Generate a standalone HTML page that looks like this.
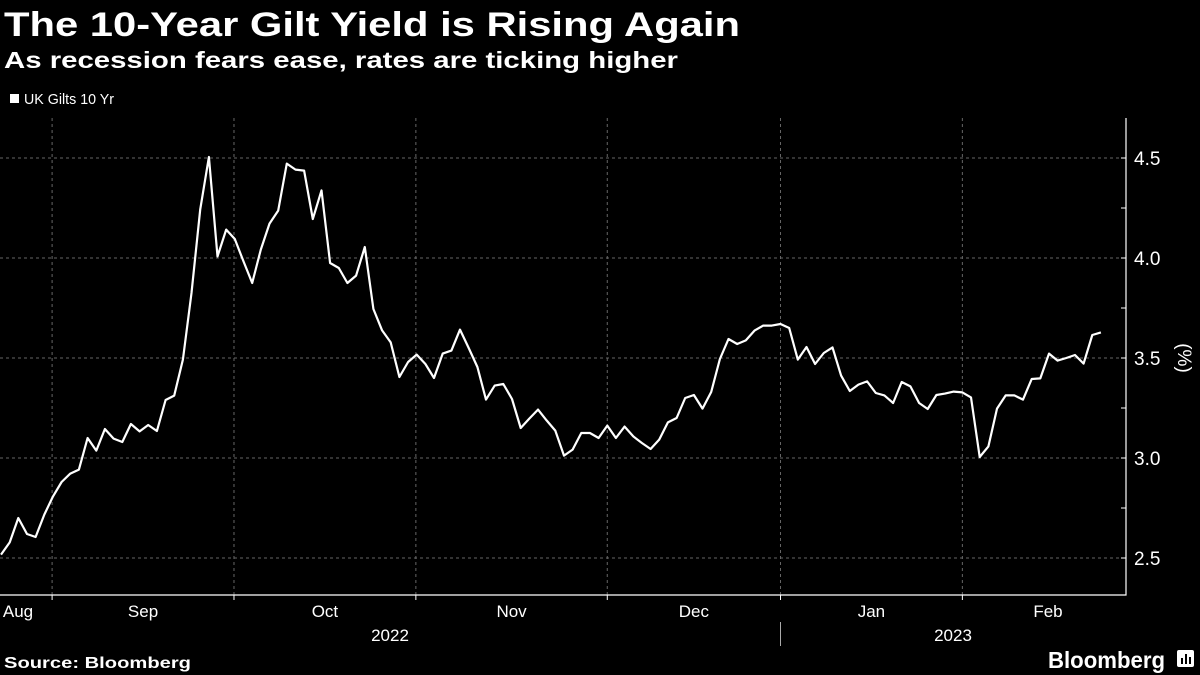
<!DOCTYPE html>
<html><head><meta charset="utf-8"><style>
body{margin:0;background:#000;width:1200px;height:675px;overflow:hidden;font-family:"Liberation Sans",sans-serif;color:#fff}
svg{position:absolute;left:0;top:0}
</style></head><body>
<svg width="1200" height="675">
<text x="4" y="36" font-size="34" font-weight="bold" fill="#fff" textLength="736" lengthAdjust="spacingAndGlyphs">The 10-Year Gilt Yield is Rising Again</text>
<text x="4" y="68" font-size="23" font-weight="bold" fill="#fff" textLength="674" lengthAdjust="spacingAndGlyphs">As recession fears ease, rates are ticking higher</text>
<rect x="10" y="94" width="9" height="9" fill="#fff"/>
<text x="24" y="104" font-size="15" fill="#fff" textLength="90" lengthAdjust="spacingAndGlyphs">UK Gilts 10 Yr</text>
<g id="grid"></g>
<g id="axes"></g>
<path id="line" fill="none" stroke="#fff" stroke-width="2.2" stroke-linejoin="round"/>
<text x="4" y="668" font-size="16" font-weight="bold" fill="#fff" textLength="187" lengthAdjust="spacingAndGlyphs">Source: Bloomberg</text>
<text x="1048" y="668" font-size="23" font-weight="bold" fill="#fff" textLength="117" lengthAdjust="spacingAndGlyphs">Bloomberg</text>
<g><rect x="1177" y="650" width="17" height="17" rx="2" fill="#fff"/><rect x="1181" y="658" width="2" height="6" fill="#000"/><rect x="1185" y="654" width="2" height="10" fill="#000"/><rect x="1189" y="657" width="2" height="7" fill="#000"/></g>
</svg>
<script>
const values=[2.517,2.578,2.70,2.62,2.605,2.717,2.808,2.88,2.922,2.942,3.10,3.037,3.145,3.097,3.08,3.17,3.133,3.165,3.135,3.29,3.312,3.492,3.825,4.242,4.505,4.008,4.142,4.095,3.983,3.875,4.042,4.172,4.237,4.472,4.442,4.437,4.195,4.338,3.975,3.95,3.875,3.912,4.055,3.745,3.638,3.578,3.405,
3.48,3.517,3.47,3.40,3.522,3.537,3.642,3.55,3.455,3.292,3.362,3.37,3.295,3.15,3.197,3.242,3.188,3.137,3.012,3.042,3.125,3.125,3.10,3.162,3.10,3.157,3.108,3.075,3.045,3.092,3.178,3.20,3.30,3.315,3.247,3.33,3.495,3.595,3.57,3.588,3.637,3.662,3.662,3.67,
3.65,3.492,3.555,3.47,3.525,3.553,3.412,3.335,3.367,3.383,3.325,3.313,3.275,3.38,3.358,3.275,3.245,3.315,3.322,3.332,3.328,3.303,3.005,3.058,3.247,3.313,3.313,3.292,3.395,3.398,3.522,3.487,3.50,3.515,3.472,3.615,3.628];
const monthStarts=[5.9,26.9,47.9,70,90,111];
const monthLabels=["Aug","Sep","Oct","Nov","Dec","Jan","Feb"];
const yTicks=[2.5,3.0,3.5,4.0,4.5];
const yTickLabels=["2.5","3.0","3.5","4.0","4.5"];
const yMinor=[2.5,2.75,3.0,3.25,3.5,3.75,4.0,4.25,4.5];
const years=["2022","2023"];
const NS="http://www.w3.org/2000/svg";
const X0=1,STEP=8.661,PR=1126,PT=118,PB=595;
const xs=i=>X0+i*STEP;
const ys=v=>158+(4.5-v)*200;
function mk(t,a,p){const e=document.createElementNS(NS,t);for(const k in a)e.setAttribute(k,a[k]);p.appendChild(e);return e;}
const grid=document.getElementById('grid'),axes=document.getElementById('axes');
yTicks.forEach((v,i)=>{
 const l=mk('line',{x1:0,x2:PR,y1:ys(v),y2:ys(v),stroke:'#666','stroke-dasharray':'3,3','stroke-width':1},grid);
 
 
 const t=mk('text',{x:1134,y:ys(v)+7,'font-size':19,fill:'#fff'},axes);t.textContent=yTickLabels[i];
 
 
});
yMinor.forEach(v=>{const l=mk('line',{x1:PR-5,x2:PR,y1:ys(v),y2:ys(v),stroke:'#fff','stroke-width':1},axes);
 
 });
monthStarts.forEach(m=>{
 const l=mk('line',{x1:xs(m),x2:xs(m),y1:PT,y2:PB,stroke:'#666','stroke-dasharray':'3,3','stroke-width':1},grid);
 
 
 const t=mk('line',{x1:xs(m),x2:xs(m),y1:PB,y2:PB+5,stroke:'#fff','stroke-width':1},axes);
 
 
});
const bounds=[0].concat(monthStarts.map(xs)).concat([PR]);
monthLabels.forEach((m,i)=>{
 let cx=(bounds[i]+bounds[i+1])/2; if(i===0)cx=18; if(i===6)cx=1048;
 const t=mk('text',{x:cx,y:617,'font-size':17,fill:'#fff','text-anchor':'middle'},axes);t.textContent=m;
 
 
});
[[390,years[0]],[953,years[1]]].forEach(([x,s])=>{const t=mk('text',{x:x,y:641,'font-size':17,fill:'#fff','text-anchor':'middle'},axes);t.textContent=s;
 
 });
const ysep=mk('line',{x1:xs(monthStarts[4]),x2:xs(monthStarts[4]),y1:622,y2:646,stroke:'#aaa','stroke-width':1},axes);


const ax=mk('path',{d:`M0 ${PB}H${PR}V${PT}`,stroke:'#fff','stroke-width':1.2,fill:'none'},axes);


const ut=mk('text',{x:1178,y:358,'font-size':19,fill:'#fff','text-anchor':'middle',transform:'rotate(90 1178 358)'},axes);ut.textContent='(%)';


document.getElementById('line').setAttribute('d',values.map((v,i)=>(i?'L':'M')+xs(i).toFixed(1)+' '+ys(v).toFixed(1)).join(''));
</script>
</body></html>
